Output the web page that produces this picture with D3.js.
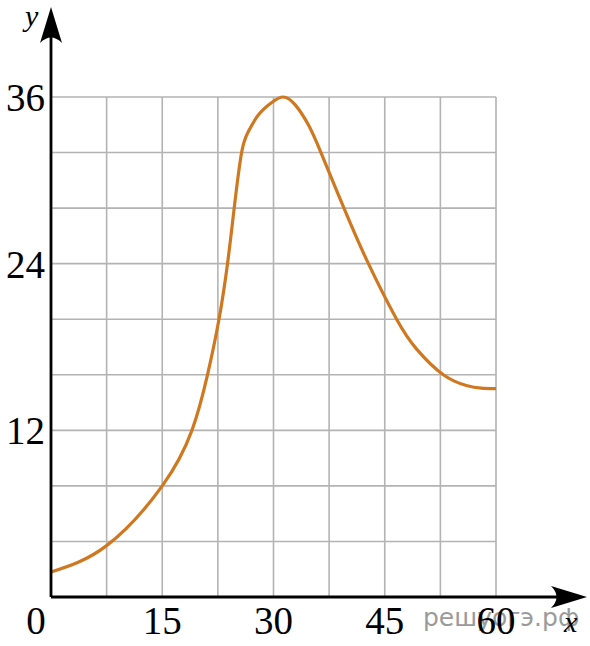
<!DOCTYPE html>
<html>
<head>
<meta charset="utf-8">
<script src="https://cdn.jsdelivr.net/npm/d3@7"></script>
<style>
  html, body { margin: 0; padding: 0; background: #fff; }
  svg { display: block; }
</style>
</head>
<body>
<div id="chart"></div>
<script>
'use strict';

// data
const curveX = [0, 7.5, 15, 19, 21.1, 22.65, 23.8, 24.7, 25.7, 26.6, 27.95, 29.76, 31.3, 32.9, 34.7, 36.4, 39.5, 42.8, 46.6, 49.3, 52.9, 56, 58, 60];
const curveY = [1.8, 3.7, 8, 12, 16, 20, 24, 28, 32, 33.5, 34.7, 35.6, 36, 35.45, 34, 32, 28, 24, 20, 17.85, 16, 15.23, 15.04, 15];
const xGrid = [0, 7.5, 15, 22.5, 30, 37.5, 45, 52.5, 60];
const yGrid = [0, 4, 8, 12, 16, 20, 24, 28, 32, 36];
const xTickLabels = [0, 15, 30, 45, 60];
const yTickLabels = [12, 24, 36];

const W = 590, H = 646;

const svg = d3.select("#chart").append("svg")
    .attr("width", W)
    .attr("height", H);

const x = d3.scaleLinear().domain([0, 60]).range([51, 496]);
const y = d3.scaleLinear().domain([0, 36]).range([597, 97]);

// grid
svg.append("g").selectAll("line")
    .data(xGrid)
    .enter().append("line")
    .attr("x1", d => x(d)).attr("x2", d => x(d))
    .attr("y1", y(0)).attr("y2", y(36))
    .attr("stroke", "#b3b3b3")
    .attr("stroke-width", 1.6);

svg.append("g").selectAll("line")
    .data(yGrid)
    .enter().append("line")
    .attr("y1", d => y(d)).attr("y2", d => y(d))
    .attr("x1", x(0)).attr("x2", x(60))
    .attr("stroke", "#b3b3b3")
    .attr("stroke-width", 1.6);

// watermark sits under the tick labels
svg.append("text")
    .attr("x", 423)
    .attr("y", 626)
    .attr("font-family", "'DejaVu Sans', sans-serif")
    .attr("font-size", "25px")
    .attr("fill", "#9a9a9a")
    .text("решуогэ.рф");

// the curve
let pts = curveX.map((d, i) => [d, curveY[i]]);
let line = d3.line()
    .x(d => x(d[0]))
    .y(d => y(d[1]))
    .curve(d3.curveNatural);

svg.append("path")
    .datum(pts)
    .attr("d", line)
    .attr("fill", "none")
    .attr("stroke", "#cf7820")
    .attr("stroke-width", 3.2)
    .attr("stroke-linejoin", "round");

// axes
svg.append("line")
    .attr("x1", x(0)).attr("x2", 570)
    .attr("y1", y(0)).attr("y2", y(0))
    .attr("stroke", "#000").attr("stroke-width", 2.8);

svg.append("line")
    .attr("x1", x(0)).attr("x2", x(0))
    .attr("y1", y(0)).attr("y2", 25)
    .attr("stroke", "#000").attr("stroke-width", 2.8);

// arrow heads
let ox = x(0), oy = y(0);
svg.append("path")
    .attr("d", `M${ox},7 L${ox + 11},43 Q${ox},32 ${ox - 11},43 Z`)
    .attr("fill", "#000");
svg.append("path")
    .attr("d", `M587,${oy} L551,${oy - 11} Q562,${oy} 551,${oy + 11} Z`)
    .attr("fill", "#000");

// tick labels
svg.append("g").selectAll("text")
    .data(xTickLabels)
    .enter().append("text")
    .attr("x", d => d === 0 ? 36 : x(d))
    .attr("y", 634)
    .attr("text-anchor", "middle")
    .attr("font-family", "'Liberation Serif', 'Times New Roman', serif")
    .attr("font-size", "39px")
    .attr("fill", "#000")
    .text(d => d);

svg.append("g").selectAll("text")
    .data(yTickLabels)
    .enter().append("text")
    .attr("x", 45)
    .attr("y", d => y(d) + 14)
    .attr("text-anchor", "end")
    .attr("font-family", "'Liberation Serif', 'Times New Roman', serif")
    .attr("font-size", "39px")
    .attr("fill", "#000")
    .text(d => d);

// axis names
svg.append("text")
    .attr("x", 25)
    .attr("y", 26)
    .attr("font-family", "'Liberation Serif', serif")
    .attr("font-style", "italic")
    .attr("font-size", "30px")
    .text("y");

svg.append("text")
    .attr("x", 564)
    .attr("y", 632)
    .attr("font-family", "'Liberation Serif', serif")
    .attr("font-style", "italic")
    .attr("font-size", "30px")
    .text("x");
</script>
</body>
</html>
